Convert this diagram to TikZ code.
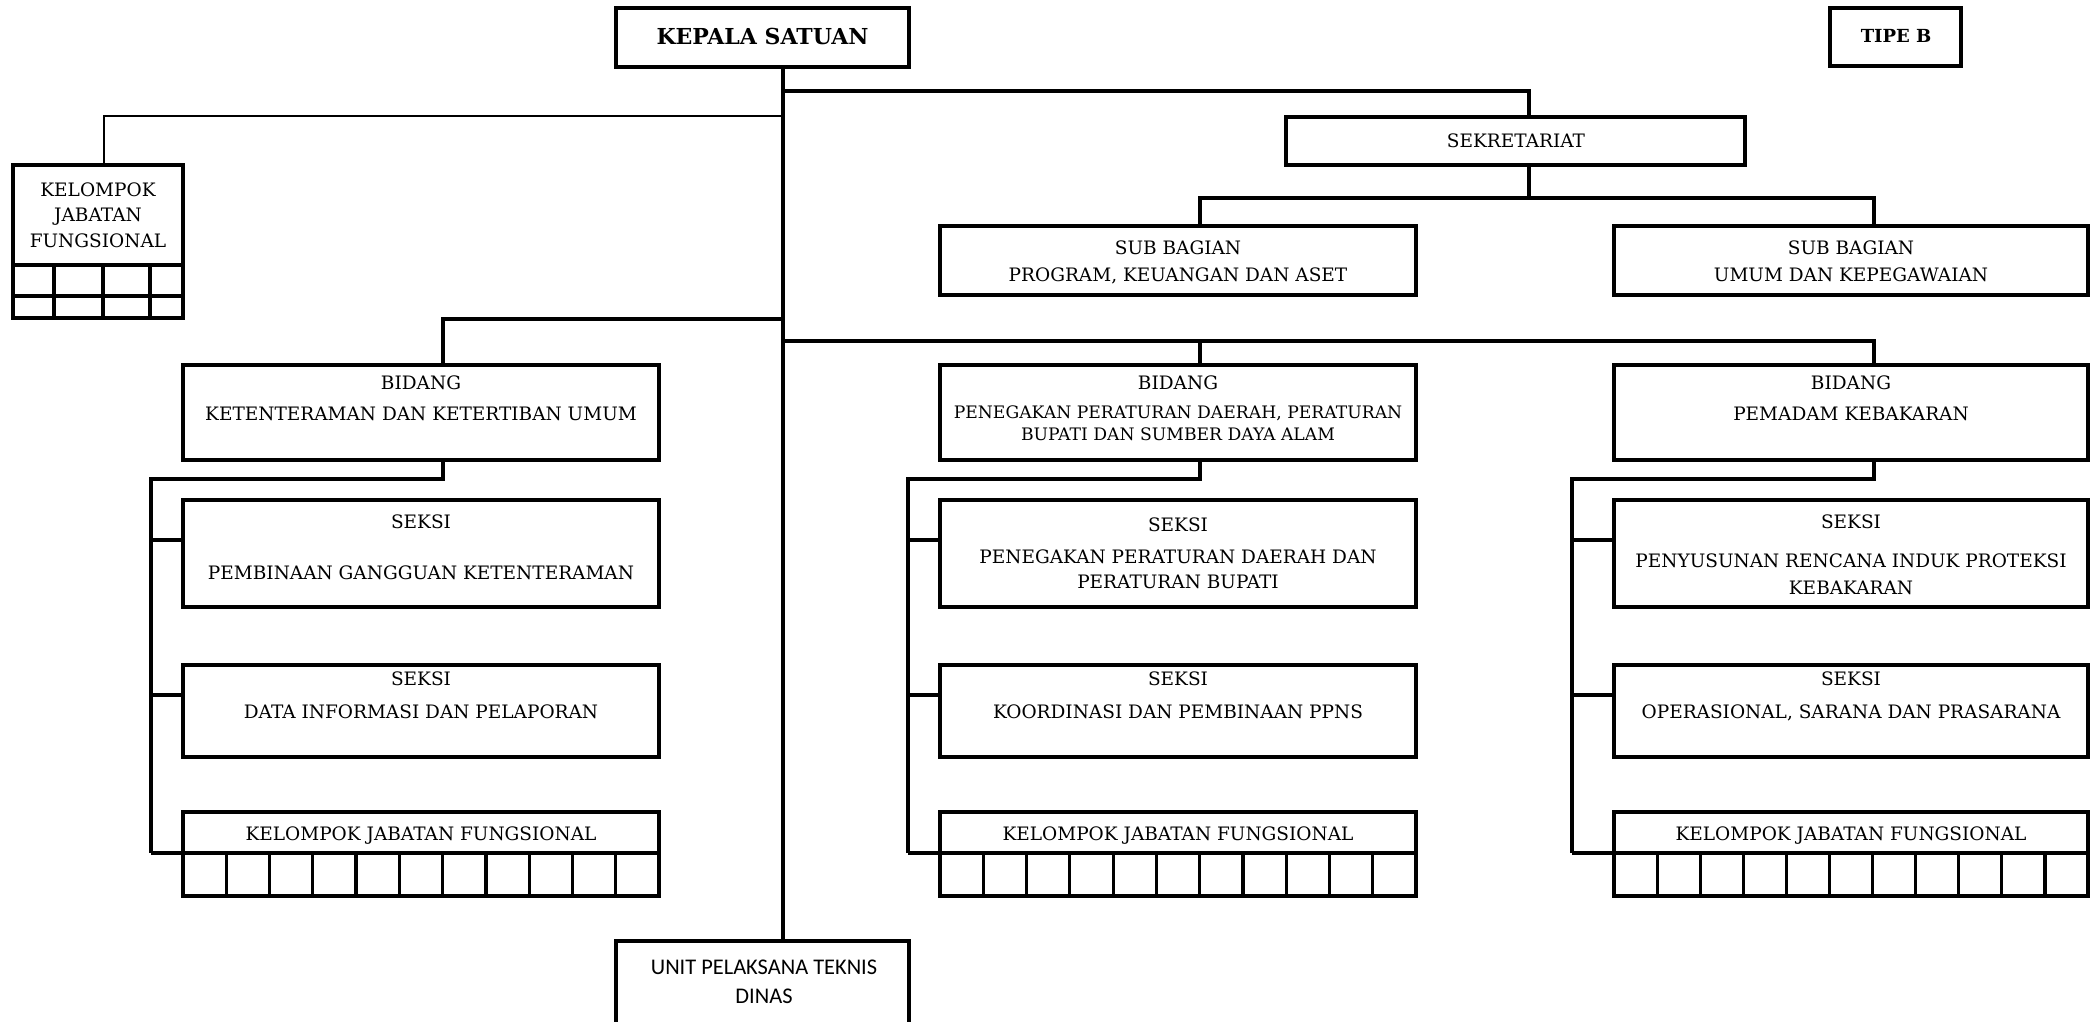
\documentclass[tikz,border=0pt]{standalone}
\usepackage{fontspec}
\setmainfont{DejaVu Serif}
\newfontfamily\uptfont{Carlito}
\usetikzlibrary{calc}
% box from its corners: name, x1, y1, x2, y2 (y grows downward)
\newcommand\orgbox[5]{\node[orgframe, minimum width={(#4)-(#2)}, minimum height={(#5)-(#3)}] (#1) at ({((#2)+(#4))/2},{((#3)+(#5))/2}) {};}
\begin{document}
\begin{tikzpicture}[x=1pt,y=-1pt,
  orgframe/.style={draw, line width=3.2pt, inner sep=0pt, outer sep=0pt},
  wire/.style={line width=3.2pt},
  thinwire/.style={line width=1.6pt},
  lbl/.style={inner sep=0pt, text height=0.73em, text depth=0pt, yshift=-4pt, font=\fontsize{18.5}{22}\selectfont},
  lblsm/.style={inner sep=0pt, text height=0.73em, text depth=0pt, yshift=-4pt, font=\fontsize{17.2}{20}\selectfont},
  lblbf/.style={inner sep=0pt, text height=0.73em, text depth=0pt, yshift=-3pt, font=\fontsize{22}{25}\selectfont\bfseries},
  lbltipe/.style={inner sep=0pt, text height=0.73em, text depth=0pt, yshift=-2pt, font=\fontsize{18}{21}\selectfont\bfseries},
  lblupt/.style={inner sep=0pt, text height=0.65em, text depth=0pt, font=\uptfont\fontsize{22.4}{26}\selectfont}]
\useasboundingbox (0,0) rectangle (2090,1022);

% ---- top level ----
\orgbox{kepala}{616}{8}{909}{67}
\orgbox{tipe}{1830}{8}{1961}{66}
\orgbox{sek}{1286}{117}{1745}{165}
\orgbox{sb1}{940}{226}{1416}{295}
\orgbox{sb2}{1614}{226}{2088}{295}
\orgbox{upt}{616}{941}{909}{1040}

% functional group beside the head
\orgbox{kjfh}{13}{165}{183}{265}
\orgbox{kjfg}{13}{265}{183}{318}
\draw[wire] (kjfg.west |- 0,296) -- (kjfg.east |- 0,296);
\foreach \f in {0.241,0.529,0.806}
  \draw[wire] ($(kjfg.north west)!\f!(kjfg.north east)$) -- ($(kjfg.south west)!\f!(kjfg.south east)$);

% ---- three columns: bidang, two seksi, functional group ----
\foreach \c/\xa/\xb in {L/183/659, M/940/1416, R/1614/2088}{
  \orgbox{bid\c}{\xa}{365}{\xb}{460}
  \orgbox{sa\c}{\xa}{500}{\xb}{607}
  \orgbox{sb\c}{\xa}{665}{\xb}{757}
  \orgbox{kh\c}{\xa}{812}{\xb}{853}
  \orgbox{kg\c}{\xa}{853}{\xb}{896}
  \foreach \i in {1,...,10}
    \draw[wire] ($(kg\c.north west)!\i/11!(kg\c.north east)$) -- ($(kg\c.south west)!\i/11!(kg\c.south east)$);
}

% ---- connectors ----
\coordinate (sp) at ($(kepala.south)+(20.5,0)$);
\draw[wire] (sp) -- (sp |- upt.north);
\coordinate (kjfin) at ($(kjfh.north)+(6,0)$);
\draw[thinwire] (sp |- 0,116) -| (kjfin);
\coordinate (sekin) at ($(sek.north)+(13.5,0)$);
\draw[wire] (sp |- 0,91) -| (sekin);
\coordinate (sekout) at ($(sek.south)+(13.5,0)$);
\coordinate (sb1in) at ($(sb1.north)+(22,0)$);
\coordinate (sb2in) at ($(sb2.north)+(23,0)$);
\draw[wire] (sekout) -- (sekout |- 0,198);
\draw[wire] (sb1in) -- (sb1in |- 0,198) -- (sb2in |- 0,198) -- (sb2in);

\coordinate (bLin) at ($(bidL.north)+(22,0)$);
\coordinate (bMin) at ($(bidM.north)+(22,0)$);
\coordinate (bRin) at ($(bidR.north)+(23,0)$);
\draw[wire] (sp |- 0,319) -| (bLin);
\draw[wire] (sp |- 0,341) -- (bRin |- 0,341) -- (bRin);
\draw[wire] (bMin |- 0,341) -- (bMin);

\foreach \c/\off/\sx in {L/22/151, M/22/908, R/23/1572}{
  \coordinate (out\c) at ($(bid\c.south)+(\off,0)$);
  \draw[wire] (out\c) -- (out\c |- 0,479) -- (\sx,479) -- (\sx,853);
  \draw[wire] (\sx,540) -- (sa\c.west |- 0,540);
  \draw[wire] (\sx,695) -- (sb\c.west |- 0,695);
  \draw[wire] (\sx,853) -- (kh\c.south west);
}

% ---- labels ----
\node[lblbf] (t-kepala) at (762.5,38) {KEPALA SATUAN};
\node[lbltipe] (t-tipe) at (1896,37) {TIPE B};
\node[lbl] (t-sek) at (1516,140) {SEKRETARIAT};
\node[lbl] (t-sb1a) at (1178,247) {SUB BAGIAN};
\node[lbl] (t-sb1b) at (1178,274) {PROGRAM, KEUANGAN DAN ASET};
\node[lbl] (t-sb2a) at (1851,247) {SUB BAGIAN};
\node[lbl] (t-sb2b) at (1851,274) {UMUM DAN KEPEGAWAIAN};
\node[lbl] (t-kjf1) at (98,189) {KELOMPOK};
\node[lbl] (t-kjf2) at (98,214) {JABATAN};
\node[lbl] (t-kjf3) at (98,240) {FUNGSIONAL};

\node[lbl] (t-bLa) at (421,382) {BIDANG};
\node[lbl] (t-bLb) at (421,413) {KETENTERAMAN DAN KETERTIBAN UMUM};
\node[lbl] (t-bMa) at (1178,382) {BIDANG};
\node[lblsm] (t-bMb) at (1178,411) {PENEGAKAN PERATURAN DAERAH, PERATURAN};
\node[lblsm] (t-bMc) at (1178,433) {BUPATI DAN SUMBER DAYA ALAM};
\node[lbl] (t-bRa) at (1851,382) {BIDANG};
\node[lbl] (t-bRb) at (1851,413) {PEMADAM KEBAKARAN};

\node[lbl] (t-sLa) at (421,521) {SEKSI};
\node[lbl] (t-sLb) at (421,572) {PEMBINAAN GANGGUAN KETENTERAMAN};
\node[lbl] (t-sMa) at (1178,524) {SEKSI};
\node[lbl] (t-sMb) at (1178,556) {PENEGAKAN PERATURAN DAERAH DAN};
\node[lbl] (t-sMc) at (1178,581) {PERATURAN BUPATI};
\node[lbl] (t-sRa) at (1851,521) {SEKSI};
\node[lbl] (t-sRb) at (1851,560) {PENYUSUNAN RENCANA INDUK PROTEKSI};
\node[lbl] (t-sRc) at (1851,587) {KEBAKARAN};

\node[lbl] (t-tLa) at (421,678) {SEKSI};
\node[lbl] (t-tLb) at (421,711) {DATA INFORMASI DAN PELAPORAN};
\node[lbl] (t-tMa) at (1178,678) {SEKSI};
\node[lbl] (t-tMb) at (1178,711) {KOORDINASI DAN PEMBINAAN PPNS};
\node[lbl] (t-tRa) at (1851,678) {SEKSI};
\node[lbl] (t-tRb) at (1851,711) {OPERASIONAL, SARANA DAN PRASARANA};

\node[lbl] (t-kL) at (421,833) {KELOMPOK JABATAN FUNGSIONAL};
\node[lbl] (t-kM) at (1178,833) {KELOMPOK JABATAN FUNGSIONAL};
\node[lbl] (t-kR) at (1851,833) {KELOMPOK JABATAN FUNGSIONAL};

\node[lblupt] (t-upt1) at (764,971) {UNIT PELAKSANA TEKNIS};
\node[lblupt] (t-upt2) at (764,1000) {DINAS};
\end{tikzpicture}
\end{document}
